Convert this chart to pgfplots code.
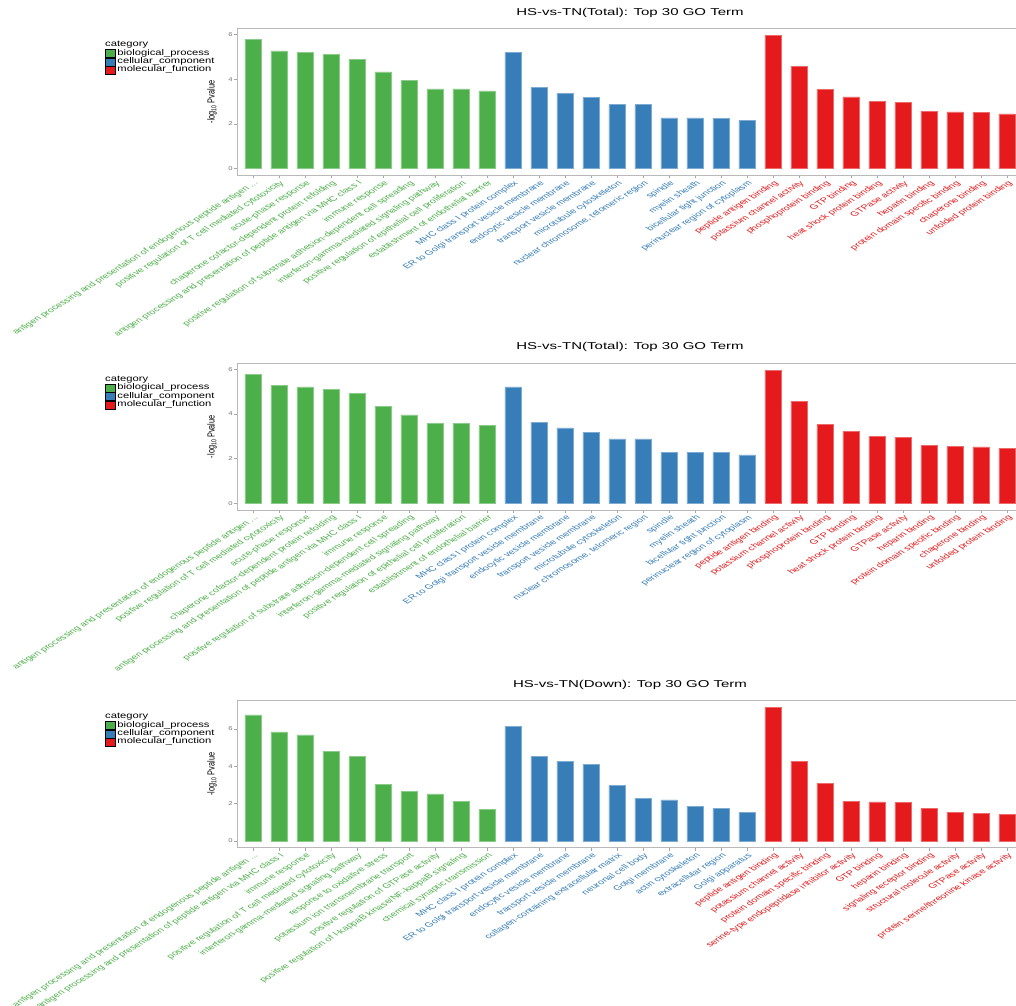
\documentclass[border=0pt]{standalone}
\usepackage{fontspec}
\setmainfont{Liberation Sans}
\newfontfamily\legfont[FakeStretch=1.35]{Liberation Sans}
\newfontfamily\titfont[FakeStretch=1.5]{Liberation Sans}
\usepackage{pgfplots}
\pgfplotsset{compat=1.18}
\usepackage{pgfplotstable}

\definecolor{cbp}{HTML}{4DAF4A}
\definecolor{ccc}{HTML}{377EB8}
\definecolor{cmf}{HTML}{E41A1C}
\newcommand\G[1]{\textcolor{cbp}{#1}}
\newcommand\B[1]{\textcolor{ccc}{#1}}
\newcommand\R[1]{\textcolor{cmf}{#1}}

% HS-vs-TN(Total)
\pgfplotstableread{
x y
0 5.79
1 5.28
2 5.21
3 5.11
4 4.91
5 4.34
6 3.96
7 3.58
8 3.58
9 3.48
}\tTbp
\pgfplotstableread{
x y
10 5.21
11 3.64
12 3.38
13 3.18
14 2.88
15 2.88
16 2.28
17 2.28
18 2.27
19 2.17
}\tTcc
\pgfplotstableread{
x y
20 5.97
21 4.58
22 3.54
23 3.22
24 3.00
25 2.96
26 2.58
27 2.54
28 2.53
29 2.46
}\tTmf
% HS-vs-TN(Down)
\pgfplotstableread{
x y
0 6.75
1 5.84
2 5.69
3 4.82
4 4.52
5 3.05
6 2.64
7 2.53
8 2.14
9 1.70
}\tDbp
\pgfplotstableread{
x y
10 6.14
11 4.55
12 4.28
13 4.09
14 2.96
15 2.29
16 2.20
17 1.87
18 1.75
19 1.55
}\tDcc
\pgfplotstableread{
x y
20 7.16
21 4.28
22 3.09
23 2.14
24 2.09
25 2.05
26 1.75
27 1.55
28 1.46
29 1.41
}\tDmf

\pgfplotsset{
  gobar/.style={ybar, bar width=0.62, bar shift=0pt, fill=#1, draw=#1!65!white, line width=0.5pt},
  golegend/.style={legend image code/.code={\fill[##1] (0pt,-4pt) rectangle (10pt,4pt);}},
  goaxis/.style={
    scale only axis, width=785.2pt,
    xmin=-0.6, xmax=29.6,
    clip mode=individual,
    axis line style={gray!55, line width=0.9pt},
    xtick={0,...,29}, ytick={0,2,4,6},
    xtick pos=bottom, ytick pos=left,
    tick align=outside, major tick length=3pt,
    tick style={gray!70, line width=0.6pt},
    /pgf/number format/assume math mode=true,
    yticklabel style={font=\fontsize{5.5}{6}\selectfont, text=gray!90!black, xscale=1.4, inner sep=1pt},
    xticklabel style={font=\fontsize{6.85}{7}\selectfont, xscale=1.6, rotate=45, anchor=north east, inner sep=1pt},
    title style={font=\titfont\fontsize{10}{12}\selectfont, at={(axis description cs:0.5,1)}, anchor=base, yshift=7.5pt},
    ylabel={-log\textsubscript{10} Pvalue},
    ylabel style={at={(axis description cs:-0.0323,0.5)}, anchor=center, font=\fontsize{7.3}{8}\selectfont, rotate=-90, xscale=1.4, rotate=90},
    legend style={at={(axis description cs:-0.1686,1)}, anchor=north west, yshift=-20.6pt,
      draw=none, fill=none, inner sep=0pt, outer sep=0pt, row sep=0pt, column sep=2pt,
      font=\legfont\fontsize{8.3}{9}\selectfont,
      nodes={inner sep=0pt, text height=5.6pt, text depth=2.4pt}},
    legend cell align=left,
  },
  labtotal/.style={xticklabels={
    \G{antigen processing and presentation of endogenous peptide antigen ...},
    \G{positive regulation of T cell mediated cytotoxicity},
    \G{acute-phase response},
    \G{chaperone cofactor-dependent protein refolding},
    \G{antigen processing and presentation of peptide antigen via MHC class I},
    \G{immune response},
    \G{positive regulation of substrate adhesion-dependent cell spreading},
    \G{interferon-gamma-mediated signaling pathway},
    \G{positive regulation of epithelial cell proliferation},
    \G{establishment of endothelial barrier},
    \B{MHC class I protein complex},
    \B{ER to Golgi transport vesicle membrane},
    \B{endocytic vesicle membrane},
    \B{transport vesicle membrane},
    \B{microtubule cytoskeleton},
    \B{nuclear chromosome, telomeric region},
    \B{spindle},
    \B{myelin sheath},
    \B{bicellular tight junction},
    \B{perinuclear region of cytoplasm},
    \R{peptide antigen binding},
    \R{potassium channel activity},
    \R{phosphoprotein binding},
    \R{GTP binding},
    \R{heat shock protein binding},
    \R{GTPase activity},
    \R{heparin binding},
    \R{protein domain specific binding},
    \R{chaperone binding},
    \R{unfolded protein binding}}},
  labdown/.style={xticklabels={
    \G{antigen processing and presentation of endogenous peptide antigen ...},
    \G{antigen processing and presentation of peptide antigen via MHC class I},
    \G{immune response},
    \G{positive regulation of T cell mediated cytotoxicity},
    \G{interferon-gamma-mediated signaling pathway},
    \G{response to oxidative stress},
    \G{potassium ion transmembrane transport},
    \G{positive regulation of GTPase activity},
    \G{positive regulation of I-kappaB kinase/NF-kappaB signaling},
    \G{chemical synaptic transmission},
    \B{MHC class I protein complex},
    \B{ER to Golgi transport vesicle membrane},
    \B{endocytic vesicle membrane},
    \B{transport vesicle membrane},
    \B{collagen-containing extracellular matrix},
    \B{neuronal cell body},
    \B{Golgi membrane},
    \B{actin cytoskeleton},
    \B{extracellular region},
    \B{Golgi apparatus},
    \R{peptide antigen binding},
    \R{potassium channel activity},
    \R{protein domain specific binding},
    \R{serine-type endopeptidase inhibitor activity},
    \R{GTP binding},
    \R{heparin binding},
    \R{signaling receptor binding},
    \R{structural molecule activity},
    \R{GTPase activity},
    \R{protein serine/threonine kinase activity}}},
}

\newcommand\categorynode{\node[anchor=base west, inner sep=0pt, font=\legfont\fontsize{8.3}{9}\selectfont, yshift=-18.3pt] at (axis description cs:-0.1686,1) {category};}

\begin{document}
\begin{tikzpicture}
\path[use as bounding box] (0,0) rectangle (1016pt,1005pt);

% Panel 1
\begin{axis}[goaxis, labtotal, at={(237.4pt,829.6pt)}, anchor=south west,
  height=146.7pt, ymin=-0.30, ymax=6.27,
  title={HS-vs-TN(Total): Top 30 GO Term}]
  \addplot[gobar=cbp, forget plot] table[x=x,y=y] {\tTbp};
  \addplot[gobar=ccc, forget plot] table[x=x,y=y] {\tTcc};
  \addplot[gobar=cmf, forget plot] table[x=x,y=y] {\tTmf};
  \addlegendimage{golegend, fill=cbp}\addlegendentry{biological\_process}
  \addlegendimage{golegend, fill=ccc}\addlegendentry{cellular\_component}
  \addlegendimage{golegend, fill=cmf}\addlegendentry{molecular\_function}
  \categorynode
\end{axis}

% Panel 2
\begin{axis}[goaxis, labtotal, at={(237.4pt,495pt)}, anchor=south west,
  height=146.7pt, ymin=-0.30, ymax=6.27,
  title={HS-vs-TN(Total): Top 30 GO Term}]
  \addplot[gobar=cbp, forget plot] table[x=x,y=y] {\tTbp};
  \addplot[gobar=ccc, forget plot] table[x=x,y=y] {\tTcc};
  \addplot[gobar=cmf, forget plot] table[x=x,y=y] {\tTmf};
  \addlegendimage{golegend, fill=cbp}\addlegendentry{biological\_process}
  \addlegendimage{golegend, fill=ccc}\addlegendentry{cellular\_component}
  \addlegendimage{golegend, fill=cmf}\addlegendentry{molecular\_function}
  \categorynode
\end{axis}

% Panel 3
\begin{axis}[goaxis, labdown, at={(237.4pt,157.3pt)}, anchor=south west,
  height=147.1pt, ymin=-0.36, ymax=7.52,
  title={HS-vs-TN(Down): Top 30 GO Term}]
  \addplot[gobar=cbp, forget plot] table[x=x,y=y] {\tDbp};
  \addplot[gobar=ccc, forget plot] table[x=x,y=y] {\tDcc};
  \addplot[gobar=cmf, forget plot] table[x=x,y=y] {\tDmf};
  \addlegendimage{golegend, fill=cbp}\addlegendentry{biological\_process}
  \addlegendimage{golegend, fill=ccc}\addlegendentry{cellular\_component}
  \addlegendimage{golegend, fill=cmf}\addlegendentry{molecular\_function}
  \categorynode
\end{axis}
\end{tikzpicture}
\end{document}
